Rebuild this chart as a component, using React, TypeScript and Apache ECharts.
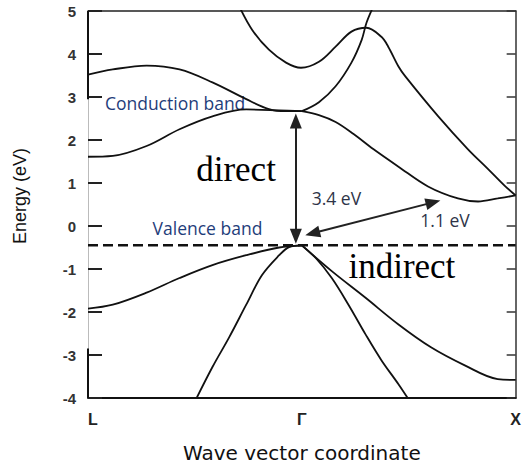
import React, { useEffect, useRef } from "react";
import * as echarts from "echarts";

// k-path: L = 0, Γ = 50, X = 100
const kTicks = [0, 50, 100];
const kLabels = ["L", "Γ", "X"];

// valence band maximum at Γ (eV)
const vbm = -0.45;

// conduction bands [k, E]
const cbUpperL = [[0, 3.52], [5.8, 3.64], [13.7, 3.73], [21.4, 3.64], [29.1, 3.34], [37, 2.95], [42.3, 2.72], [46.3, 2.67], [50, 2.67]];
const cbLowerL = [[0, 1.61], [5.8, 1.63], [13.7, 1.86], [21.4, 2.25], [29.1, 2.55], [37, 2.71], [44.7, 2.69], [50, 2.67]];
const cbSteepR = [[50, 2.67], [54, 2.88], [57.9, 3.25], [61.6, 3.8], [64, 4.33], [65.1, 4.72], [66.6, 5.08]];
const cbHump = [[35.4, 5.1], [38.4, 4.56], [42.3, 4.1], [46.3, 3.8], [49.8, 3.68], [54, 3.82], [57.9, 4.17], [61.6, 4.52], [65.1, 4.61], [68.6, 4.4], [70.2, 4.17], [72.6, 3.71], [74.2, 3.48], [81.9, 2.55], [88.8, 1.79], [93.5, 1.33], [97.4, 0.94], [100, 0.71]];
const cbLowerR = [[50, 2.67], [54, 2.58], [57.9, 2.42], [62.1, 2.14], [66.7, 1.79], [72.6, 1.38], [79.5, 0.92], [86.5, 0.64], [91.2, 0.57], [95.8, 0.64], [100, 0.71]];

// valence bands [k, E]
const vbGentleL = [[0, -1.92], [5.8, -1.83], [13.7, -1.55], [21.4, -1.21], [29.1, -0.91], [37, -0.68], [44.7, -0.5], [50, -0.45]];
const vbSteepL = [[24.9, -4.1], [29.1, -3.28], [33, -2.59], [37, -1.83], [40.7, -1.14], [44.7, -0.68], [47, -0.49], [50, -0.45]];
const vbSteepR = [[50, -0.45], [53.3, -0.75], [57, -1.21], [60.9, -1.83], [64.9, -2.52], [68.6, -3.12], [72.6, -3.68], [75.4, -4.1]];
const vbGentleR = [[50, -0.45], [57, -1.05], [64.9, -1.67], [72.6, -2.29], [80.2, -2.82], [88.1, -3.24], [95.8, -3.56], [100, -3.58]];

// gap arrows: [from, to]
const directGap = [[48.6, 2.44], [48.6, -0.24]];
const indirectGap = [[52.5, -0.17], [80.7, 0.55]];

// annotations
const noteTexts = ["Conduction band", "Valence band", "3.4 eV", "1.1 eV", "direct", "indirect"];
const notePos = [[3.95, 2.85], [15.1, -0.05], [52.3, 0.64], [77.7, 0.13], [25.3, 1.31], [60.9, -0.95]];
const noteKinds = ["band", "band", "gap", "gap", "type", "type"];

const SANS = "Liberation Sans, Arial, sans-serif";

const curve = (data: number[][]) => ({
  type: "line",
  data,
  smooth: 0.35,
  showSymbol: false,
  symbol: "none",
  clip: true,
  silent: true,
  lineStyle: { color: "#111", width: 1.8 },
});

const noteStyle = (kind: string) => {
  if (kind === "band") return { fontFamily: "Open Sans", fontSize: 17.5, color: "#1f3d7a" };
  if (kind === "gap") return { fontFamily: "Open Sans", fontSize: 17.5, color: "#2e3448" };
  return { fontFamily: "Liberation Serif, Times New Roman, serif", fontSize: 35, color: "#000" };
};

export default function App() {
  const ref = useRef<HTMLDivElement>(null);

  useEffect(() => {
    if (!ref.current) return;
    const chart = echarts.init(ref.current, undefined, { renderer: "svg" });

    const option: any = {
      animation: false,
      backgroundColor: "#fff",
      grid: { left: 88, right: 6, top: 11, bottom: 67, containLabel: false },
      xAxis: [
        {
          type: "value",
          min: 0,
          max: 100,
          interval: 50,
          position: "bottom",
          axisLine: { show: true, onZero: false, lineStyle: { color: "#111", width: 2 } },
          axisTick: { show: false },
          splitLine: { show: false },
          axisLabel: {
            formatter: (v: number) => {
              const i = kTicks.indexOf(v);
              return i >= 0 ? kLabels[i] : "";
            },
            margin: 13,
            fontFamily: SANS,
            fontSize: 16,
            fontWeight: "bold",
            color: "#222",
            alignMinLabel: "left",
          },
          name: "Wave vector coordinate",
          nameLocation: "middle",
          nameGap: 45,
          nameTextStyle: { fontFamily: "DejaVu Sans", fontSize: 20, color: "#111" },
        },
        {
          type: "value",
          min: 0,
          max: 100,
          position: "top",
          axisLine: { show: true, onZero: false, lineStyle: { color: "#222", width: 1.5 } },
          axisTick: { show: false },
          axisLabel: { show: false },
          splitLine: { show: false },
        },
      ],
      yAxis: [
        {
          type: "value",
          min: -4,
          max: 5,
          interval: 1,
          position: "left",
          axisLine: { show: true, onZero: false, lineStyle: { color: "#bbb", width: 1 } },
          axisTick: { show: true, inside: true, length: 14, lineStyle: { color: "#222", width: 2 } },
          axisLabel: { margin: 12, fontFamily: SANS, fontWeight: "bold", fontSize: 15, color: "#333" },
          splitLine: { show: false },
        },
        {
          type: "value",
          min: -4,
          max: 5,
          interval: 1,
          position: "right",
          axisLine: { show: true, onZero: false, lineStyle: { color: "#333", width: 1.5 } },
          axisTick: { show: true, inside: true, length: 9, lineStyle: { color: "#333", width: 1.5 } },
          axisLabel: { show: false },
          splitLine: { show: false },
        },
      ],
      graphic: [
        {
          type: "text",
          x: 20,
          y: 196,
          rotation: Math.PI / 2,
          style: {
            text: "Energy (eV)",
            fontFamily: SANS,
            fontSize: 18,
            fill: "#111",
            align: "center",
            verticalAlign: "middle",
          },
        },
      ],
      series: [
        // solid parts of the left spine
        { type: "line", data: [[0, 5], [0, 2.95]], showSymbol: false, symbol: "none", clip: false, silent: true, lineStyle: { color: "#111", width: 2 } },
        { type: "line", data: [[0, -2.85], [0, -4]], showSymbol: false, symbol: "none", clip: false, silent: true, lineStyle: { color: "#111", width: 2 } },
        curve(cbUpperL),
        curve(cbLowerL),
        curve(cbSteepR),
        curve(cbHump),
        curve(cbLowerR),
        curve(vbGentleL),
        curve(vbSteepL),
        curve(vbSteepR),
        curve(vbGentleR),
        {
          type: "line",
          data: [[0, vbm], [100, vbm]],
          showSymbol: false,
          symbol: "none",
          silent: true,
          lineStyle: { color: "#111", width: 2.5, type: [10, 5] },
          markLine: {
            silent: true,
            symbol: ["triangle", "triangle"],
            symbolSize: [12, 15],
            label: { show: false },
            lineStyle: { color: "#222", width: 2, type: "solid" },
            data: [
              [{ coord: directGap[0] }, { coord: directGap[1] }],
              [{ coord: indirectGap[0] }, { coord: indirectGap[1] }],
            ],
          },
        },
        {
          type: "scatter",
          symbolSize: 0,
          itemStyle: { color: "rgba(0,0,0,0)" },
          silent: true,
          clip: false,
          data: noteTexts.map((t, i) => ({
            value: notePos[i],
            label: {
              show: true,
              position: "right",
              distance: 0,
              opacity: 1,
              formatter: t,
              ...noteStyle(noteKinds[i]),
            },
          })),
        },
      ],
    };

    chart.setOption(option);
    return () => chart.dispose();
  }, []);

  return (
    <div
      ref={ref}
      style={{ position: "fixed", left: 0, top: 0, width: 524, height: 468, background: "#fff" }}
    />
  );
}
